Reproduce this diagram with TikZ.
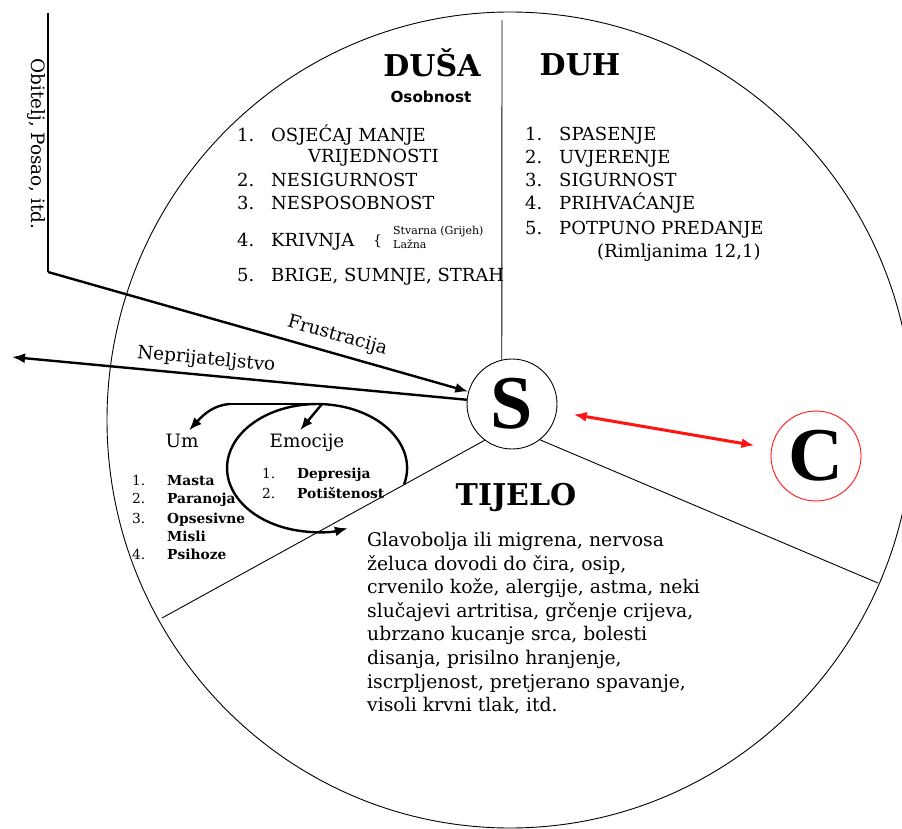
\documentclass[tikz,border=0pt]{standalone}
\usepackage{fontspec}
\setmainfont{DejaVu Serif}
\newfontfamily\hubfont{Liberation Serif}
\newfontfamily\persfont{DejaVu Sans}
\usepackage{xcolor}
\definecolor{linkred}{RGB}{255, 20, 20}
\usetikzlibrary{arrows.meta}
\newcommand\itemno[1]{\makebox[34pt][l]{#1}}
\newcommand\smallno[1]{\makebox[35pt][l]{\mdseries #1}}
\tikzset{
  rim/.style={line width=0.9pt},
  heavy/.style={line width=2.4pt, -{Latex[length=13pt,width=10pt]}},
  hub/.style={circle, draw, line width=0.9pt, minimum size=90pt, inner sep=0pt,
    font=\hubfont\bfseries\fontsize{76}{76}\selectfont},
  heading/.style={anchor=base, inner sep=0pt, font=\bfseries\fontsize{30}{36}\selectfont},
  entry/.style={anchor=base west, inner sep=0pt, font=\fontsize{18}{22}\selectfont},
  minor/.style={anchor=base west, inner sep=0pt, font=\bfseries\fontsize{13.8}{18}\selectfont},
  part/.style={anchor=base, inner sep=3pt, font=\fontsize{18.4}{22}\selectfont},
}

\begin{document}
\begin{tikzpicture}[x=1pt,y=-1pt]
\useasboundingbox (0,0) rectangle (902,829);
% wheel and spokes
\draw[rim] (510,420) ellipse [x radius=403pt, y radius=408pt];
\node[hub] (S) at (512,404) {S};
\node[hub, draw=linkred] (C) at (816,456) {C};
\coordinate (rimT) at (502,20);
\coordinate (rimL) at (162,618);
\coordinate (rimR) at (878,583);
\draw[rim] (rimT) -- (S.103);
\draw[rim] (S.233) -- (rimL);
\draw[rim] (S.308) -- (rimR);

% dusa
\node[heading] (dusa) at (432,77) {DUŠA};
\node[anchor=base, inner sep=0pt, font=\persfont\bfseries\fontsize{15.2}{18}\selectfont] (osob) at (431,103) {Osobnost};
\node[entry] (d1) at (237,142) {\itemno{1.}OSJEĆAJ MANJE};
\node[entry] (d1b) at (308,163) {VRIJEDNOSTI};
\node[entry] (d2) at (237,187) {\itemno{2.}NESIGURNOST};
\node[entry] (d3) at (237,210) {\itemno{3.}NESPOSOBNOST};
\node[entry] (d4) at (237,246) {\itemno{4.}KRIVNJA};
\node[anchor=base west, inner sep=0pt, font=\fontsize{14}{16}\selectfont] (brace) at (373,245) {\{};
\node[anchor=base west, inner sep=0pt, font=\fontsize{11}{12}\selectfont] (real) at (393,235) {Stvarna (Grijeh)};
\node[anchor=base west, inner sep=0pt, font=\fontsize{11}{12}\selectfont] (false) at (393,248) {Lažna};
\node[entry] (d5) at (237,281) {\itemno{5.}BRIGE, SUMNJE, STRAH};

% duh
\node[heading] (duh) at (580,76) {DUH};
\node[entry] (h1) at (525,141) {\itemno{1.}SPASENJE};
\node[entry] (h2) at (525,164) {\itemno{2.}UVJERENJE};
\node[entry] (h3) at (525,187) {\itemno{3.}SIGURNOST};
\node[entry] (h4) at (525,210) {\itemno{4.}PRIHVAĆANJE};
\node[entry] (h5) at (525,235) {\itemno{5.}POTPUNO PREDANJE};
\node[entry] (h6) at (597,257) {(Rimljanima 12,1)};

% um, emocije
\node[part] (um) at (182,447) {Um};
\node[part] (emo) at (307,447) {Emocije};
\node[minor] (u1) at (132,485) {\smallno{1.}Masta};
\node[minor] (u2) at (132,503) {\smallno{2.}Paranoja};
\node[minor] (u3) at (132,523) {\smallno{3.}Opsesivne};
\node[minor] (u3b) at (167,541) {Misli};
\node[minor] (u4) at (132,559) {\smallno{4.}Psihoze};
\node[minor] (e1) at (262,478) {\smallno{1.}Depresija};
\node[minor] (e2) at (262,498) {\smallno{2.}Potištenost};

% tijelo
\node[heading] (tijelo) at (516,505) {TIJELO};
\node[anchor=north west, inner sep=0pt, align=left, font=\fontsize{18.8}{23.6}\selectfont] (body) at (367,532)
  {Glavobolja ili migrena, nervosa\\
   želuca dovodi do čira, osip,\\
   crvenilo kože, alergije, astma, neki\\
   slučajevi artritisa, grčenje crijeva,\\
   ubrzano kucanje srca, bolesti\\
   disanja, prisilno hranjenje,\\
   iscrpljenost, pretjerano spavanje,\\
   visoli krvni tlak, itd.};

% outside world
\node[rotate=-90, inner sep=0pt, font=\fontsize{18.4}{22}\selectfont] (family) at (36,144) {Obitelj, Posao, itd.};
\coordinate (frameTop) at (48,13);
\coordinate (frameKnee) at (48,272);
\coordinate (enemyEnd) at (12,357);
\draw[line width=1.5pt] (frameTop) -- (frameKnee);
\draw[heavy] (frameKnee) -- (S)
  node[pos=0.677, above=4pt, sloped, font=\fontsize{18.4}{22}\selectfont] (frus) {Frustracija};
\draw[heavy, {Latex[length=13pt,width=10pt]}-] (enemyEnd) -- (S)
  node[pos=0.424, above=2pt, sloped, font=\fontsize{18.4}{22}\selectfont] (enemy) {Neprijateljstvo};
\draw[linkred, line width=3pt, {Latex[length=13pt,width=10pt]}-{Latex[length=13pt,width=10pt]},
  shorten <=17pt, shorten >=17pt] (S) -- (C);

% loop of feelings
\coordinate (barL) at (230,404);
\coordinate (barR) at (322,404);
\coordinate (loopStart) at (404,484.6);
\draw[heavy, -] (barL) -- (barR);
\draw[heavy] (barL) .. controls (214,405) and (204,414) .. (um.55);
\draw[heavy] (barR) -- (emo.120);
\draw[heavy] (loopStart) arc[start angle=-15, end angle=290, x radius=90pt, y radius=64pt];
\end{tikzpicture}
\end{document}
